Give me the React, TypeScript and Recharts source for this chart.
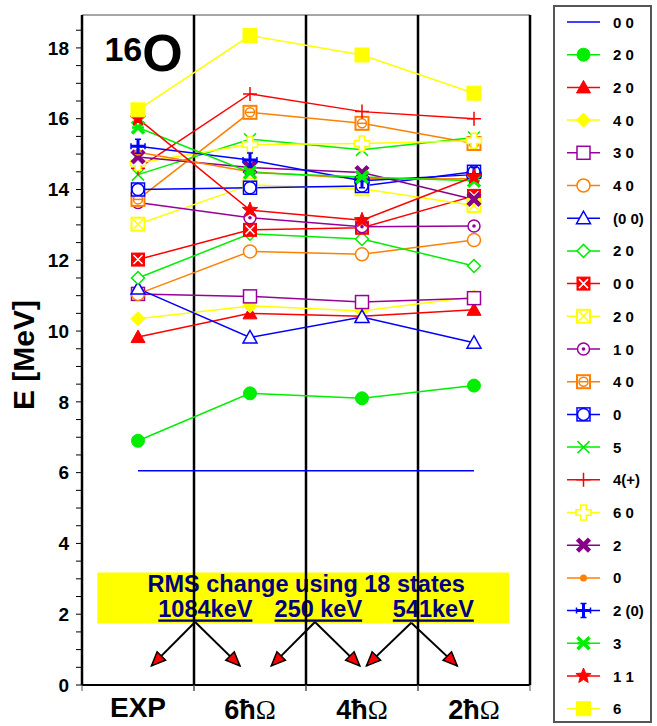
import React from 'react';
import { LineChart, Line, XAxis, YAxis, ReferenceLine, ReferenceArea, ReferenceDot } from 'recharts';

const categories = ['EXP', '6ħΩ', '4ħΩ', '2ħΩ'];
const yTicks = Array.from({ length: 38 }, (_, i) => i * 0.5);

// level energies (MeV) per column: EXP, 6hw, 4hw, 2hw
const s0Blue = [6.05, 6.05, 6.05, 6.05];
const s2GreenCircle = [6.9, 8.24, 8.1, 8.46];
const s2RedTriangle = [9.83, 10.5, 10.42, 10.6];
const s4YellowDiamond = [10.35, 10.71, 10.57, 10.97];
const s3PurpleSquare = [11.05, 10.98, 10.82, 10.93];
const s4OrangeCircle = [11.05, 12.25, 12.17, 12.57];
const s0BlueTriangle = [11.2, 9.82, 10.4, 9.67];
const s2GreenDiamond = [11.5, 12.75, 12.6, 11.84];
const s0RedXSquare = [12.02, 12.86, 12.92, 13.82];
const s2YellowXSquare = [13.02, 14.13, 14.02, 13.55];
const s1PurpleDot = [13.63, 13.2, 12.95, 12.97];
const s4OrangeSquare = [13.72, 16.18, 15.87, 15.3];
const s0BlueCircle = [14.0, 14.05, 14.1, 14.5];
const s5GreenX = [14.42, 15.42, 15.12, 15.47];
const s4RedPlus = [14.6, 16.7, 16.2, 16.0];
const s6YellowPlus = [14.75, 15.27, 15.3, 15.38];
const s2PurpleX = [14.92, 14.62, 14.48, 13.72];
const s0OrangeDot = [15.05, 14.5, 14.3, 14.3];
const s2BluePlus = [15.22, 14.83, 14.25, 14.42];
const s3GreenStar = [15.75, 14.48, 14.35, 14.25];
const s1RedStar = [16.0, 13.42, 13.13, 14.36];
const s6YellowSquare = [16.25, 18.35, 17.8, 16.72];

const series = [
  { label: '0 0', color: '#0000ff', marker: 'none', values: s0Blue },
  { label: '2 0', color: '#00ee00', marker: 'circleFilled', values: s2GreenCircle },
  { label: '2 0', color: '#ff0000', marker: 'triangleFilled', values: s2RedTriangle },
  { label: '4 0', color: '#ffff00', marker: 'diamondFilled', values: s4YellowDiamond },
  { label: '3 0', color: '#990099', marker: 'squareOpen', values: s3PurpleSquare },
  { label: '4 0', color: '#ff8000', marker: 'circleOpen', values: s4OrangeCircle },
  { label: '(0 0)', color: '#0000ff', marker: 'triangleOpen', values: s0BlueTriangle },
  { label: '2 0', color: '#00ee00', marker: 'diamondOpen', values: s2GreenDiamond },
  { label: '0 0', color: '#ff0000', marker: 'squareX', values: s0RedXSquare },
  { label: '2 0', color: '#ffff00', marker: 'squareXOpen', values: s2YellowXSquare },
  { label: '1 0', color: '#990099', marker: 'circleDot', values: s1PurpleDot },
  { label: '4 0', color: '#ff8000', marker: 'squareCircle', values: s4OrangeSquare },
  { label: '0', color: '#0000ff', marker: 'circleSquare', values: s0BlueCircle },
  { label: '5', color: '#00ee00', marker: 'x', values: s5GreenX },
  { label: '4(+)', color: '#ff0000', marker: 'plus', values: s4RedPlus },
  { label: '6 0', color: '#ffff00', marker: 'plusOpen', values: s6YellowPlus },
  { label: '2', color: '#880088', marker: 'xBold', values: s2PurpleX },
  { label: '0', color: '#ff8000', marker: 'dot', values: s0OrangeDot },
  { label: '2 (0)', color: '#0000ff', marker: 'plusBold', values: s2BluePlus },
  { label: '3', color: '#00ee00', marker: 'asterisk', values: s3GreenStar },
  { label: '1 1', color: '#ff0000', marker: 'star', values: s1RedStar },
  { label: '6', color: '#ffff00', marker: 'squareFilled', values: s6YellowSquare },
];

const rows = categories.map((name, i) => {
  const row: any = { x: i + 0.5, name };
  series.forEach((s, k) => {
    row['s' + k] = s.values[i];
  });
  return row;
});

// RMS annotation: arrows from the keV labels down to the columns they compare
const rmsLabels = ['1084keV', '250 keV', '541keV'];
const arrows = [
  [1.01, 1.78, 0.62, 0.54],
  [1.01, 1.78, 1.41, 0.54],
  [2.08, 1.78, 1.69, 0.54],
  [2.08, 1.78, 2.48, 0.54],
  [2.94, 1.76, 2.54, 0.54],
  [2.94, 1.76, 3.35, 0.54],
];

const FONT = "'Liberation Sans', Arial, sans-serif";

function starPoints(cx: number, cy: number, ro: number, ri: number) {
  const pts: string[] = [];
  for (let i = 0; i < 10; i++) {
    const r = i % 2 === 0 ? ro : ri;
    const a = -Math.PI / 2 + (i * Math.PI) / 5;
    pts.push(`${cx + r * Math.cos(a)},${cy + r * Math.sin(a)}`);
  }
  return pts.join(' ');
}

const Marker = ({ kind, cx, cy, color }: any) => {
  if (cx == null || cy == null) return null;
  const sw = 1.5;
  switch (kind) {
    case 'circleFilled':
      return <circle cx={cx} cy={cy} r={6.5} fill={color} stroke={color} />;
    case 'triangleFilled':
      return <polygon points={`${cx},${cy - 7} ${cx - 7},${cy + 5.5} ${cx + 7},${cy + 5.5}`} fill={color} stroke={color} />;
    case 'diamondFilled':
      return <polygon points={`${cx},${cy - 7} ${cx + 7},${cy} ${cx},${cy + 7} ${cx - 7},${cy}`} fill={color} stroke={color} />;
    case 'squareOpen':
      return <rect x={cx - 6.5} y={cy - 6.5} width={13} height={13} fill="#fff" stroke={color} strokeWidth={sw} />;
    case 'circleOpen':
      return <circle cx={cx} cy={cy} r={6.5} fill="#fff" stroke={color} strokeWidth={sw} />;
    case 'triangleOpen':
      return <polygon points={`${cx},${cy - 7} ${cx - 7},${cy + 5.5} ${cx + 7},${cy + 5.5}`} fill="#fff" stroke={color} strokeWidth={sw} />;
    case 'diamondOpen':
      return <polygon points={`${cx},${cy - 6.5} ${cx + 6.5},${cy} ${cx},${cy + 6.5} ${cx - 6.5},${cy}`} fill="#fff" stroke={color} strokeWidth={sw} />;
    case 'squareX':
      return (
        <g>
          <rect x={cx - 6.5} y={cy - 6.5} width={13} height={13} fill={color} stroke={color} />
          <path d={`M${cx - 4.5},${cy - 4.5}L${cx + 4.5},${cy + 4.5}M${cx + 4.5},${cy - 4.5}L${cx - 4.5},${cy + 4.5}`} stroke="#fff" strokeWidth={1.5} />
        </g>
      );
    case 'squareXOpen':
      return (
        <g>
          <rect x={cx - 6.5} y={cy - 6.5} width={13} height={13} fill="#fff" stroke={color} strokeWidth={2} />
          <path d={`M${cx - 5},${cy - 5}L${cx + 5},${cy + 5}M${cx + 5},${cy - 5}L${cx - 5},${cy + 5}`} stroke={color} strokeWidth={1.5} />
        </g>
      );
    case 'circleDot':
      return (
        <g>
          <circle cx={cx} cy={cy} r={6} fill="#fff" stroke={color} strokeWidth={sw} />
          <circle cx={cx} cy={cy} r={1.8} fill={color} />
        </g>
      );
    case 'squareCircle':
      return (
        <g>
          <rect x={cx - 6.5} y={cy - 6.5} width={13} height={13} fill="#fff" stroke={color} strokeWidth={2} />
          <circle cx={cx} cy={cy} r={4.5} fill="none" stroke={color} strokeWidth={sw} />
          <line x1={cx - 4.5} x2={cx + 4.5} y1={cy} y2={cy} stroke={color} strokeWidth={sw} />
        </g>
      );
    case 'circleSquare':
      return (
        <g>
          <rect x={cx - 6.5} y={cy - 6.5} width={13} height={13} fill="#fff" stroke={color} strokeWidth={sw} />
          <circle cx={cx} cy={cy} r={6} fill="#fff" stroke={color} strokeWidth={sw} />
        </g>
      );
    case 'x':
      return <path d={`M${cx - 6},${cy - 6}L${cx + 6},${cy + 6}M${cx + 6},${cy - 6}L${cx - 6},${cy + 6}`} stroke={color} strokeWidth={1.5} />;
    case 'plus':
      return <path d={`M${cx - 7},${cy}L${cx + 7},${cy}M${cx},${cy - 7}L${cx},${cy + 7}`} stroke={color} strokeWidth={1.5} />;
    case 'plusOpen': {
      const a = 2.8;
      const b = 7.5;
      const d = `M${cx - a},${cy - b}H${cx + a}V${cy - a}H${cx + b}V${cy + a}H${cx + a}V${cy + b}H${cx - a}V${cy + a}H${cx - b}V${cy - a}H${cx - a}Z`;
      return <path d={d} fill="#fff" stroke={color} strokeWidth={1.5} />;
    }
    case 'xBold':
      return <path d={`M${cx - 6},${cy - 6}L${cx + 6},${cy + 6}M${cx + 6},${cy - 6}L${cx - 6},${cy + 6}`} stroke={color} strokeWidth={4.5} />;
    case 'dot':
      return <circle cx={cx} cy={cy} r={3.5} fill={color} />;
    case 'plusBold':
      return (
        <g>
          <path d={`M${cx - 7},${cy}L${cx + 7},${cy}M${cx},${cy - 7}L${cx},${cy + 7}`} stroke={color} strokeWidth={3} />
          <path d={`M${cx - 7},${cy - 3}V${cy + 3}M${cx + 7},${cy - 3}V${cy + 3}M${cx - 3},${cy - 7}H${cx + 3}M${cx - 3},${cy + 7}H${cx + 3}`} stroke={color} strokeWidth={1.5} />
        </g>
      );
    case 'asterisk':
      return (
        <g>
          <path d={`M${cx - 6},${cy - 6}L${cx + 6},${cy + 6}M${cx + 6},${cy - 6}L${cx - 6},${cy + 6}`} stroke={color} strokeWidth={3.5} />
          <path d={`M${cx - 6},${cy}L${cx + 6},${cy}`} stroke={color} strokeWidth={2.5} />
        </g>
      );
    case 'star':
      return <polygon points={starPoints(cx, cy, 8, 3.5)} fill={color} stroke={color} />;
    case 'squareFilled':
      return <rect x={cx - 7} y={cy - 7} width={14} height={14} fill={color} stroke={color} />;
    default:
      return null;
  }
};

const XTick = (props: any) => {
  const { x, y, payload } = props;
  const name = categories[Math.round(payload.value - 0.5)];
  const half = 56;
  const tickMarks = (
    <g>
      <line x1={x - half} x2={x - half} y1={y} y2={y + 6} stroke="#555" strokeWidth={1} />
      <line x1={x + half} x2={x + half} y1={y} y2={y + 6} stroke="#555" strokeWidth={1} />
    </g>
  );
  if (name === 'EXP') {
    return (
      <g>
        {tickMarks}
        <text x={x} y={y + 32} textAnchor="middle" fontFamily={FONT} fontWeight="bold" fontSize={28} fill="#000">
          EXP
        </text>
      </g>
    );
  }
  const digit = name.charAt(0);
  return (
    <g>
      {tickMarks}
      <text x={x} y={y + 34} textAnchor="middle" fill="#000" fontSize={27}>
        <tspan fontFamily={FONT} fontWeight="bold">{digit}ħ</tspan>
        <tspan fontFamily="'Liberation Serif', serif">Ω</tspan>
      </text>
    </g>
  );
};

const RmsLabel = (props: any) => {
  const vb = props.viewBox || { x: 97, y: 572, width: 412, height: 51 };
  const { x, y, width } = vb;
  const centers = [108, 221, 336];
  return (
    <g fontFamily={FONT} fontWeight="bold" fill="#000080">
      <text x={x + width / 2 + 3} y={y + 20} textAnchor="middle" fontSize={23.5}>
        RMS change using 18 states
      </text>
      {rmsLabels.map((t, i) => (
        <text key={t} x={x + centers[i]} y={y + 45} textAnchor="middle" fontSize={23.5} style={{ textDecoration: 'underline' }}>
          {t}
        </text>
      ))}
    </g>
  );
};

const ArrowHead = (props: any) => {
  const { cx, cy, dir } = props;
  if (cx == null) return null;
  const ang = dir < 0 ? 135 : 45;
  return (
    <polygon
      points={`${cx},${cy} ${cx - 14},${cy - 6} ${cx - 14},${cy + 6}`}
      transform={`rotate(${ang} ${cx} ${cy})`}
      fill="#ff0000"
      stroke="#000"
      strokeWidth={1.5}
    />
  );
};

const LegendBox = () => {
  const top0 = 17;
  const step = 32.7;
  return (
    <svg
      width={100}
      height={718}
      style={{ position: 'absolute', left: 553, top: 5 }}
    >
      <rect x={1} y={1} width={97} height={716} fill="#fff" stroke="#555" strokeWidth={2} />
      {series.map((s, i) => {
        const cy = top0 + i * step;
        return (
          <g key={i}>
            <line x1={14} x2={47} y1={cy} y2={cy} stroke={s.color} strokeWidth={1.5} />
            <Marker kind={s.marker} cx={30.5} cy={cy} color={s.color} />
            <text x={60} y={cy + 5.5} fontFamily={FONT} fontWeight="bold" fontSize={15} fill="#000">
              {s.label}
            </text>
          </g>
        );
      })}
    </svg>
  );
};

const YLabel = () => (
  <text x={34} y={355} transform="rotate(-90 34 355)" textAnchor="middle" fontFamily={FONT} fontWeight="bold" fontSize={30} fill="#000">
    E [MeV]
  </text>
);

const NucleusLabel = (props: any) => {
  const { cx, cy } = props;
  if (cx == null) return null;
  return (
    <text x={cx} y={cy} fontFamily={FONT} fontWeight="bold" fill="#000">
      <tspan fontSize={34} dy={-10}>16</tspan>
      <tspan fontSize={52} dy={10}>O</tspan>
    </text>
  );
};

export default function App() {
  const yMax = 18.93;
  return (
    <div style={{ position: 'absolute', left: 0, top: 0, width: 657, height: 726, background: '#fff' }}>
      <LineChart width={657} height={726} data={rows} margin={{ top: 15, right: 127, bottom: 5, left: 0 }}>
        <XAxis
          dataKey="x"
          type="number"
          domain={[0, 4]}
          ticks={[0.5, 1.5, 2.5, 3.5]}
          interval={0}
          height={36}
          axisLine={{ stroke: '#000', strokeWidth: 2 }}
          tickLine={false}
          tickSize={0}
          tickMargin={0}
          tick={<XTick />}
        />
        <YAxis
          type="number"
          domain={[0, yMax]}
          ticks={yTicks}
          interval={0}
          width={82}
          allowDataOverflow
          axisLine={{ stroke: '#000', strokeWidth: 2.5 }}
          tickLine={{ stroke: '#000', strokeWidth: 1 }}
          tickSize={6}
          tickMargin={7}
          tickFormatter={(v: number) => (v % 2 === 0 ? String(v) : '')}
          tick={{ fill: '#000', fontSize: 19, fontWeight: 'bold', fontFamily: FONT }}
          label={{ content: () => <YLabel /> }}
        />
        <ReferenceLine y={yMax} stroke="#888" strokeWidth={1.5} />
        {[1, 2, 3, 4].map((v) => (
          <ReferenceLine key={v} x={v} stroke="#000" strokeWidth={2.5} />
        ))}
        <ReferenceArea x1={0.137} x2={3.813} y1={1.74} y2={3.18} fill="#ffff00" fillOpacity={1} stroke="none" label={(p: any) => <RmsLabel {...p} />} />
        {arrows.map((a, i) => (
          <ReferenceLine
            key={'al' + i}
            segment={[{ x: a[0], y: a[1] }, { x: a[2], y: a[3] }]}
            stroke="#000"
            strokeWidth={2}
            ifOverflow="visible"
          />
        ))}
        {arrows.map((a, i) => (
          <ReferenceDot
            key={'ah' + i}
            x={a[2]}
            y={a[3]}
            r={0}
            ifOverflow="visible"
            shape={(p: any) => <ArrowHead {...p} dir={a[2] - a[0]} />}
          />
        ))}
        <ReferenceDot x={0.2} y={17.35} r={0} shape={(p: any) => <NucleusLabel {...p} />} />
        {series.map((s, k) => (
          <Line
            key={k}
            dataKey={'s' + k}
            stroke={s.color}
            strokeWidth={1.5}
            isAnimationActive={false}
            dot={(p: any) => <Marker key={`m${k}-${p.index}`} kind={s.marker} cx={p.cx} cy={p.cy} color={s.color} />}
            activeDot={false}
          />
        ))}
      </LineChart>
      <LegendBox />
    </div>
  );
}
